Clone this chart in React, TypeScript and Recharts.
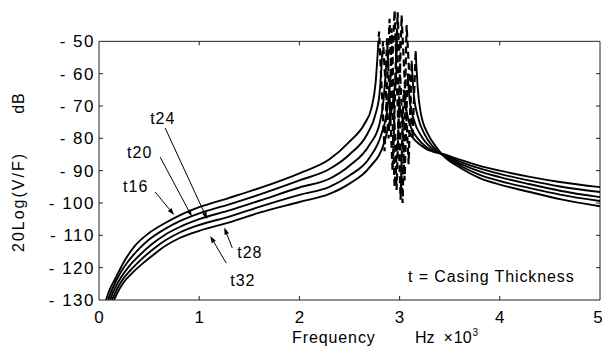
import React from "react";
import { LineChart, Line, XAxis, YAxis, ReferenceLine } from "recharts";

const FREQ_TICKS = [0, 1, 2, 3, 4, 5];
const DB_TICKS = [-130, -120, -110, -100, -90, -80, -70, -60, -50];
const INNER_FREQ_TICKS = [1, 2, 3, 4];
const INNER_DB_TICKS = [-120, -110, -100, -90, -80, -70, -60];

// [frequency (x10^3 Hz), dB]
const t16Rise = [
  [0.07, -130], [0.1, -127.3], [0.16, -123.5], [0.26, -117.6], [0.36, -113.2],
  [0.49, -109.5], [0.66, -106.2], [0.8, -103.9], [1.0, -101.3], [1.3, -98.4],
  [1.6, -95.4], [2.0, -90.8], [2.3, -86.5], [2.5, -81], [2.65, -75.5],
  [2.72, -70.5], [2.76, -63], [2.785, -52],
];
const t20Rise = [
  [0.09, -130], [0.12, -127.5], [0.18, -123.5], [0.28, -118.5], [0.38, -114.8],
  [0.5, -111.3], [0.66, -108], [0.8, -105.7], [1.0, -103.2], [1.3, -100.4],
  [1.6, -97.4], [2.0, -93.0], [2.3, -89.5], [2.5, -85], [2.68, -78.5],
  [2.76, -72.5], [2.8, -66], [2.825, -55],
];
const t24Rise = [
  [0.11, -130], [0.14, -127.6], [0.2, -124], [0.3, -119.6], [0.4, -116.3],
  [0.52, -112.9], [0.66, -109.8], [0.8, -107.5], [1.0, -105], [1.3, -102.3],
  [1.6, -99.3], [2.0, -95.2], [2.3, -92.5], [2.5, -88.5], [2.7, -82],
  [2.8, -75.5], [2.84, -68], [2.865, -58],
];
const t28Rise = [
  [0.13, -130], [0.16, -127.8], [0.22, -124.4], [0.32, -120.6], [0.42, -117.5],
  [0.54, -114.3], [0.66, -111.6], [0.8, -109.2], [1.0, -106.8], [1.3, -104.2],
  [1.6, -101.2], [2.0, -97.5], [2.3, -95], [2.5, -91.5], [2.7, -86],
  [2.82, -78.5], [2.88, -70.5], [2.91, -61],
];
const t32Rise = [
  [0.15, -130], [0.18, -128], [0.24, -124.8], [0.34, -121.4], [0.44, -118.6],
  [0.56, -115.6], [0.66, -113.3], [0.8, -110.9], [1.0, -108.6], [1.3, -106],
  [1.6, -103], [2.0, -99.7], [2.3, -97.2], [2.5, -94], [2.7, -89],
  [2.85, -81], [2.93, -69.5], [2.96, -62],
];

const t16Ring = [[2.785, -52], [2.795, -47], [2.85, -84], [2.9, -43], [2.95, -95], [3.0, -70]];
const t20Ring = [[2.825, -55], [2.835, -50], [2.89, -80], [2.95, -40.5], [3.01, -99], [3.04, -65]];
const t24Ring = [[2.865, -58], [2.875, -49], [2.93, -90], [2.98, -41], [3.05, -93], [3.08, -60]];
const t28Ring = [[2.91, -61], [2.92, -46], [2.97, -96], [3.02, -42], [3.09, -88], [3.12, -56]];
const t32Ring = [[2.96, -62], [2.97, -48], [3.03, -100], [3.07, -45], [3.13, -80], [3.16, -53]];

const t16Fall = [
  [3.0, -70], [3.03, -74], [3.08, -77.5], [3.16, -80.8], [3.26, -83.2], [3.45, -85],
  [3.6, -86.6], [3.8, -88.5], [4.0, -90], [4.3, -91.9], [4.6, -93.5], [5, -95.1],
];
const t20Fall = [
  [3.04, -65], [3.06, -70], [3.1, -75.5], [3.18, -80], [3.28, -83], [3.45, -85.2],
  [3.6, -87.2], [3.8, -89.3], [4.0, -91], [4.3, -93.1], [4.6, -94.9], [5, -96.6],
];
const t24Fall = [
  [3.08, -60], [3.1, -68], [3.14, -74], [3.22, -79.5], [3.31, -82.8], [3.45, -85.4],
  [3.6, -87.8], [3.8, -90.2], [4.0, -92], [4.3, -94.2], [4.6, -96.2], [5, -98.2],
];
const t28Fall = [
  [3.12, -56], [3.14, -66], [3.18, -73], [3.25, -78.8], [3.33, -82.5], [3.45, -85.6],
  [3.6, -88.4], [3.8, -91.3], [4.0, -93.2], [4.3, -95.4], [4.6, -97.4], [5, -99.4],
];
const t32Fall = [
  [3.16, -53], [3.18, -64], [3.21, -72], [3.28, -78.5], [3.36, -82.5], [3.45, -85.8],
  [3.6, -89], [3.8, -92.3], [4.0, -94.3], [4.3, -96.6], [4.6, -98.8], [5, -101],
];

const CURVES = [
  { name: "t16", rise: t16Rise, ring: t16Ring, fall: t16Fall },
  { name: "t20", rise: t20Rise, ring: t20Ring, fall: t20Fall },
  { name: "t24", rise: t24Rise, ring: t24Ring, fall: t24Fall },
  { name: "t28", rise: t28Rise, ring: t28Ring, fall: t28Fall },
  { name: "t32", rise: t32Rise, ring: t32Ring, fall: t32Fall },
];

// arrow tail, tip, label offset from tail (px)
const ARROWS = [
  { label: "t16", from: [0.56, -96.6], to: [0.75, -103.7], dx: -32, dy: 0 },
  { label: "t20", from: [0.61, -85.8], to: [0.927, -104.2], dx: -33, dy: 1 },
  { label: "t24", from: [0.66, -76.8], to: [1.08, -105.0], dx: -15, dy: -4 },
  { label: "t28", from: [1.33, -113.9], to: [1.25, -107.6], dx: 5, dy: 10 },
  { label: "t32", from: [1.27, -118.6], to: [1.11, -110.2], dx: 4, dy: 23 },
];

const FONT = "'Liberation Sans', Arial, Helvetica, sans-serif";
const AX = "#222";

const toPts = (a: number[][]) => a.map(([f, db]) => ({ f, db }));

const YTick = (props: any) => {
  const { x, y, payload } = props;
  return (
    <text
      x={x}
      y={y}
      dy="0.36em"
      textAnchor="end"
      fontFamily={FONT}
      fontSize={17}
      fill="#000"
      letterSpacing={1.5}
      xmlSpace="preserve"
      style={{ whiteSpace: "pre" }}
    >
      {"- " + Math.abs(payload.value)}
    </text>
  );
};

const XTick = (props: any) => {
  const { x, y, payload } = props;
  return (
    <text x={x} y={y} dy="0.71em" textAnchor="middle" fontFamily={FONT} fontSize={17} fill="#000">
      {payload.value}
    </text>
  );
};

const ArrowShape = (props: any) => {
  const { x1, y1, x2, y2, label, dx, dy } = props;
  const a = Math.atan2(y2 - y1, x2 - x1);
  const L = 7;
  const W = 2.4;
  const bx = x2 - L * Math.cos(a);
  const by = y2 - L * Math.sin(a);
  const px = -Math.sin(a) * W;
  const py = Math.cos(a) * W;
  return (
    <g>
      <line x1={x1} y1={y1} x2={bx} y2={by} stroke="#000" strokeWidth={1} />
      <polygon points={`${x2},${y2} ${bx + px},${by + py} ${bx - px},${by - py}`} fill="#000" />
      <text x={x1 + dx} y={y1 + dy} fontFamily={FONT} fontSize={16} letterSpacing={1} fill="#000">
        {label}
      </text>
    </g>
  );
};

const seg = (key: string, x1: number, y1: number, x2: number, y2: number) => (
  <ReferenceLine
    key={key}
    xAxisId="b"
    yAxisId="l"
    segment={[{ x: x1, y: y1 }, { x: x2, y: y2 }]}
    stroke={AX}
    strokeWidth={1}
  />
);

export default function App() {
  return (
    <div style={{ position: "absolute", left: 0, top: 0, background: "#fff" }}>
      <LineChart width={602} height={350} margin={{ top: 9, right: 2, bottom: 20, left: 0 }}>
        <XAxis
          xAxisId="b"
          type="number"
          dataKey="f"
          domain={[0, 5]}
          ticks={FREQ_TICKS}
          allowDataOverflow
          height={30}
          tickLine={false}
          tickSize={0}
          tickMargin={11}
          stroke={AX}
          tick={<XTick />}
        />
        <YAxis
          yAxisId="l"
          type="number"
          domain={[-130, -40]}
          ticks={DB_TICKS}
          allowDataOverflow
          width={99}
          axisLine={false}
          tickLine={false}
          tickSize={0}
          tickMargin={4}
          stroke={AX}
          tick={<YTick />}
        />
        <ReferenceLine xAxisId="b" yAxisId="l" y={-50} stroke={AX} strokeWidth={1} />
        {seg("left", 0, -130, 0, -50)}
        {seg("right", 5, -130, 5, -50)}
        {INNER_FREQ_TICKS.map((t) => seg("tt" + t, t, -50, t, -51.25))}
        {INNER_FREQ_TICKS.map((t) => seg("bt" + t, t, -130, t, -128.75))}
        {INNER_DB_TICKS.map((v) => seg("lt" + v, 0, v, 0.04, v))}
        {INNER_DB_TICKS.map((v) => seg("rt" + v, 5, v, 4.96, v))}
        {CURVES.map((c) => (
          <Line
            key={c.name + "r"}
            xAxisId="b"
            yAxisId="l"
            data={toPts(c.rise)}
            dataKey="db"
            type="monotone"
            stroke="#000"
            strokeWidth={1.9}
            dot={false}
            activeDot={false}
            isAnimationActive={false}
          />
        ))}
        {CURVES.map((c) => (
          <Line
            key={c.name + "d"}
            xAxisId="b"
            yAxisId="l"
            data={toPts(c.ring)}
            dataKey="db"
            type="linear"
            stroke="#000"
            strokeWidth={2.2}
            strokeDasharray="7 4"
            dot={false}
            activeDot={false}
            isAnimationActive={false}
          />
        ))}
        {CURVES.map((c) => (
          <Line
            key={c.name + "f"}
            xAxisId="b"
            yAxisId="l"
            data={toPts(c.fall)}
            dataKey="db"
            type="monotone"
            stroke="#000"
            strokeWidth={1.9}
            dot={false}
            activeDot={false}
            isAnimationActive={false}
          />
        ))}
        {ARROWS.map((a) => (
          <ReferenceLine
            key={a.label}
            xAxisId="b"
            yAxisId="l"
            segment={[{ x: a.from[0], y: a.from[1] }, { x: a.to[0], y: a.to[1] }]}
            ifOverflow="visible"
            shape={(p: any) => <ArrowShape {...p} label={a.label} dx={a.dx} dy={a.dy} />}
          />
        ))}
        <text x={408} y={281.5} fontFamily={FONT} fontSize={16} letterSpacing={0.9} fill="#000">
          t = Casing Thickness
        </text>
        <text x={292} y={343} fontFamily={FONT} fontSize={16} letterSpacing={0.9} fill="#000">
          Frequency
        </text>
        <text x={415} y={343} fontFamily={FONT} fontSize={16} fill="#000" xmlSpace="preserve" style={{ whiteSpace: "pre" }}>
          {"Hz  \u00d7"}
          <tspan dx={1}>10</tspan>
          <tspan dx={1} dy={-7} fontSize={10}>3</tspan>
        </text>
        <text transform="translate(24,202) rotate(-90)" textAnchor="middle" fontFamily={FONT} fontSize={16} letterSpacing={2} fill="#000">
          20Log(V/F)
        </text>
        <text transform="translate(24,103) rotate(-90)" textAnchor="middle" fontFamily={FONT} fontSize={16} letterSpacing={1} fill="#000">
          dB
        </text>
      </LineChart>
    </div>
  );
}
